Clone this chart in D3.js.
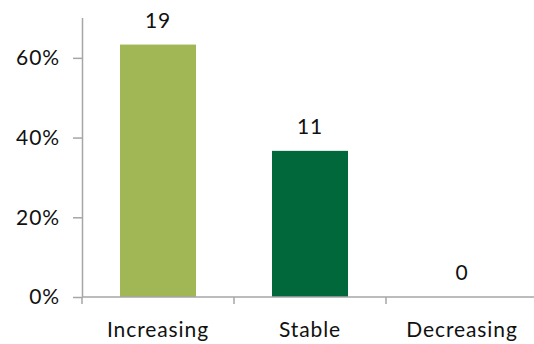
<!DOCTYPE html>
<html>
<head>
<meta charset="utf-8">
<script src="https://cdn.jsdelivr.net/npm/d3@7"></script>
<style>
  html, body { margin: 0; padding: 0; background: #fff; }
  svg { display: block; }
  text { font-family: "Lato", "Open Sans", sans-serif; fill: #111; letter-spacing: 0.9px; }
</style>
</head>
<body>
<div id="chart"></div>
<script>
// Trend responses: count per category, plotted as share of all responses
const categories = ["Increasing", "Stable", "Decreasing"];
const counts = [19, 11, 0];
const barColors = ["#A1B655", "#00683A", "#7F7F7F"];
const yTicks = [0, 0.2, 0.4, 0.6];

const width = 534, height = 344;
const margin = { top: 18, right: -4, bottom: 47, left: 82 };
const fontSize = 21;

const total = d3.sum(counts);
const shares = counts.map(c => c / total);

const svg = d3.select("#chart").append("svg")
  .attr("width", width).attr("height", height);

const x = d3.scaleBand()
  .domain(categories)
  .range([margin.left, width - margin.right])
  .paddingInner(0.5).paddingOuter(0.25);

const y = d3.scaleLinear()
  .domain([0, 0.7])
  .range([height - margin.bottom, margin.top]);

const axisColor = "#A6A6A6";

// Y axis
const yAxis = svg.append("g")
  .attr("transform", `translate(${margin.left},0)`)
  .call(d3.axisLeft(y).tickValues(yTicks).tickFormat(d3.format(".0%"))
    .tickSize(9).tickPadding(13));
yAxis.select(".domain").attr("stroke", axisColor).attr("stroke-width", 1.5)
  .attr("d", `M0.5,${margin.top}V${y(0)}`);
yAxis.selectAll(".tick line").attr("stroke", axisColor).attr("stroke-width", 1.5);
yAxis.selectAll(".tick text").attr("font-size", fontSize).attr("fill", "#111")
  .style("font-family", "Lato, 'Open Sans', sans-serif");

// Bars
svg.append("g").selectAll("rect")
  .data(categories)
  .join("rect")
  .attr("x", d => x(d))
  .attr("width", x.bandwidth())
  .attr("y", (d, i) => y(shares[i]))
  .attr("height", (d, i) => y(0) - y(shares[i]))
  .attr("fill", (d, i) => barColors[i]);

// X axis with ticks at band boundaries
const xg = svg.append("g").attr("transform", `translate(0,${y(0)})`);
xg.append("line")
  .attr("x1", margin.left).attr("x2", width)
  .attr("stroke", axisColor).attr("stroke-width", 1.5);
const step = x.step();
const bounds = d3.range(categories.length + 1).map(i => margin.left + i * step);
xg.selectAll(".xtick").data(bounds).join("line")
  .attr("class", "xtick")
  .attr("x1", d => d).attr("x2", d => d)
  .attr("y1", 0).attr("y2", 7)
  .attr("stroke", axisColor).attr("stroke-width", 1.5);
xg.selectAll(".xlabel").data(categories).join("text")
  .attr("class", "xlabel")
  .attr("x", d => x(d) + x.bandwidth() / 2)
  .attr("y", 40)
  .attr("text-anchor", "middle")
  .attr("font-size", fontSize)
  .text(d => d);

// Count labels above bars
svg.append("g").selectAll("text")
  .data(categories)
  .join("text")
  .attr("x", d => x(d) + x.bandwidth() / 2)
  .attr("y", (d, i) => y(shares[i]) - 17)
  .attr("text-anchor", "middle")
  .attr("font-size", fontSize)
  .text((d, i) => counts[i]);
</script>
</body>
</html>
